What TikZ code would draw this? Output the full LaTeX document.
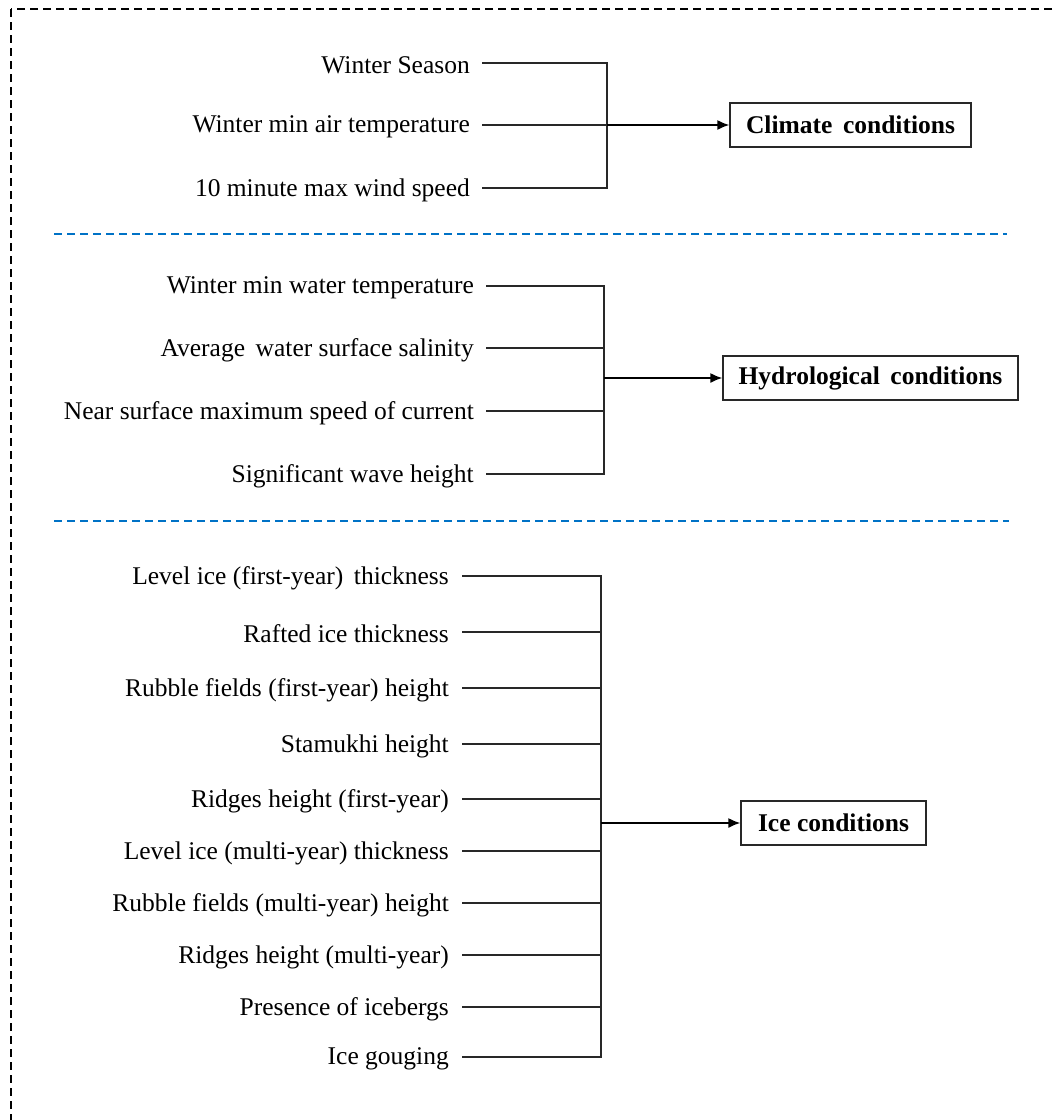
\documentclass[tikz,border=0pt]{standalone}
\usepackage{fontspec}
\setmainfont{Liberation Serif}
\usetikzlibrary{arrows.meta}
\definecolor{sepblue}{RGB}{0,114,198}
\definecolor{linegray}{RGB}{40,40,40}
\tikzset{
  lbl/.style={anchor=east,inner sep=0pt,yshift=-2pt,font=\fontsize{25.5}{28}\selectfont},
  target/.style={draw=linegray,line width=1.2pt,inner sep=0pt,font=\fontsize{25.5}{28}\selectfont\bfseries,minimum height=44pt},
  conn/.style={draw=linegray,line width=1.3pt},
  arr/.style={draw=black,line width=1.8pt,-{Latex[length=12pt,width=10pt]}},
  sep/.style={draw=sepblue,line width=1.5pt,dash pattern=on 8pt off 5pt},
}
\begin{document}
\begin{tikzpicture}[x=1pt,y=-1pt]
\useasboundingbox (0,0) rectangle (1054,1120);
\begin{scope}
\clip (0,0) rectangle (1054,1120);
\draw[black,line width=1.2pt,dash pattern=on 8pt off 5pt] (11,9) rectangle (1090,1160);
\end{scope}
% separators
\coordinate (s1a) at (54,234); \coordinate (s1b) at (1007,234);
\coordinate (s2a) at (54,521); \coordinate (s2b) at (1009,521);
\draw[sep] (s1a) -- (s1b);
\draw[sep] (s2a) -- (s2b);
% Climate
\node[lbl] (c1) at (470,63) {Winter Season};
\node[lbl] (c2) at (470,125) {Winter min air temperature};
\node[lbl] (c3) at (470,188) {10 minute max wind speed};
\coordinate (cv1) at (607,63); \coordinate (cv2) at (607,125); \coordinate (cv3) at (607,188);
\node[target,minimum width=241pt] (cbox) at (850.5,125) {Climate\, conditions};
\draw[conn] ([xshift=12pt]c1.east |- cv1) -- (cv1) -- (cv3) -- ([xshift=12pt]c3.east |- cv3);
\draw[conn] ([xshift=12pt]c2.east |- cv2) -- (cv2);
\draw[arr] (cv2) -- (cbox.west);
% Hydrological
\node[lbl] (h1) at (474,286) {Winter min water temperature};
\node[lbl] (h2) at (474,348) {Average\, water surface salinity};
\node[lbl] (h3) at (474,411) {Near surface maximum speed of current};
\node[lbl] (h4) at (474,474) {Significant wave height};
\coordinate (hv1) at (604,286); \coordinate (hv2) at (604,348); \coordinate (hv3) at (604,411); \coordinate (hv4) at (604,474);
\coordinate (hm) at (604,378);
\node[target,minimum width=295pt] (hbox) at (870.5,378) {Hydrological\, conditions};
\draw[conn] ([xshift=12pt]h1.east |- hv1) -- (hv1) -- (hv4) -- ([xshift=12pt]h4.east |- hv4);
\draw[conn] ([xshift=12pt]h2.east |- hv2) -- (hv2);
\draw[conn] ([xshift=12pt]h3.east |- hv3) -- (hv3);
\draw[arr] (hm) -- (hbox.west);
% Ice
\node[lbl] (i1) at (449,576) {Level ice (first-year)\, thickness};
\node[lbl] (i2) at (449,632) {Rafted ice thickness};
\node[lbl] (i3) at (449,688) {Rubble fields (first-year) height};
\node[lbl] (i4) at (449,744) {Stamukhi height};
\node[lbl] (i5) at (449,799) {Ridges height (first-year)};
\node[lbl] (i6) at (449,851) {Level ice (multi-year) thickness};
\node[lbl] (i7) at (449,903) {Rubble fields (multi-year) height};
\node[lbl] (i8) at (449,955) {Ridges height (multi-year)};
\node[lbl] (i9) at (449,1007) {Presence of icebergs};
\node[lbl] (i10) at (449,1057) {Ice gouging};
\coordinate (iv1) at (601,576); \coordinate (iv2) at (601,632); \coordinate (iv3) at (601,688);
\coordinate (iv4) at (601,744); \coordinate (iv5) at (601,799); \coordinate (iv6) at (601,851);
\coordinate (iv7) at (601,903); \coordinate (iv8) at (601,955); \coordinate (iv9) at (601,1007);
\coordinate (iv10) at (601,1057);
\coordinate (im) at (601,823);
\node[target,minimum width=185pt] (ibox) at (833.5,823) {Ice conditions};
\draw[conn] ([xshift=13pt]i1.east |- iv1) -- (iv1) -- (iv10) -- ([xshift=13pt]i10.east |- iv10);
\foreach \k in {2,...,9} { \draw[conn] ([xshift=13pt]i\k.east |- iv\k) -- (iv\k); }
\draw[arr] (im) -- (ibox.west);
\end{tikzpicture}
\end{document}
